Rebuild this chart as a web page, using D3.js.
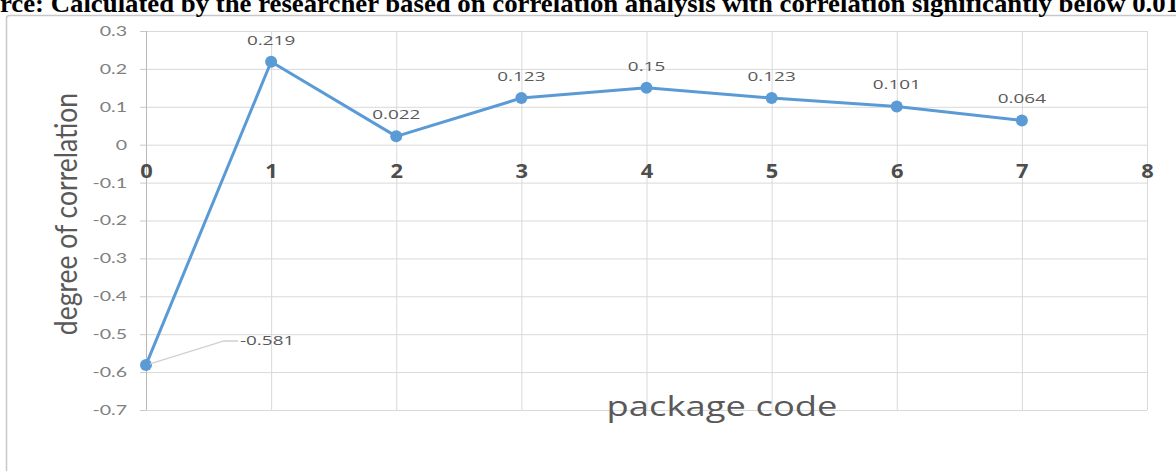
<!DOCTYPE html>
<html>
<head>
<meta charset="utf-8">
<script src="https://cdn.jsdelivr.net/npm/d3@7"></script>
<style>
  body { margin: 0; background: #fff; }
  svg { display: block; }
</style>
</head>
<body>
<div id="graph"></div>
<script>
const w = 1176;
const h = 471;

// data
const packageCodes = [0, 1, 2, 3, 4, 5, 6, 7];
const corrValues = [-0.581, 0.219, 0.022, 0.123, 0.15, 0.123, 0.101, 0.064];
const xTicks = [0, 1, 2, 3, 4, 5, 6, 7, 8];
const yTicks = [0.3, 0.2, 0.1, 0, -0.1, -0.2, -0.3, -0.4, -0.5, -0.6, -0.7];
const titleText = 'Source: Calculated by the researcher based on correlation analysis with correlation significantly below 0.01';

const lineColor = '#5b9bd5';
const gridColor = '#d9d9d9';
const stretch = 1.4; // the screenshot is squashed wider than the original chart

const svg = d3.select('#graph')
  .append('svg')
  .attr('width', w)
  .attr('height', h);

// chart frame (runs off the right / bottom edge like the screenshot)
svg.append('rect')
  .attr('x', 6.5)
  .attr('y', 15.5)
  .attr('width', w + 20)
  .attr('height', h + 20)
  .attr('rx', 3)
  .attr('fill', '#fff')
  .attr('stroke', '#c8c8c8')
  .attr('stroke-width', 1.5);

// caption, cut off at the top and left
const title = svg.append('text')
  .text(titleText)
  .style('font-family', '"Liberation Serif", serif')
  .style('font-weight', 'bold')
  .style('font-size', '26px')
  .style('fill', '#000');
const fullLen = title.node().getComputedTextLength();
const pre = svg.append('text').text('Sou')
  .style('font-family', '"Liberation Serif", serif')
  .style('font-weight', 'bold')
  .style('font-size', '26px');
const preLen = pre.node().getComputedTextLength();
pre.remove();
const tsx = 1180 / (fullLen - preLen);
title.attr('transform', 'translate(' + (-preLen * tsx) + ',12) scale(' + tsx + ',1)');

// scales
const xScale = d3.scaleLinear().domain([0, 8]).range([146, 1147]);
const yScale = d3.scaleLinear().domain([-0.7, 0.3]).range([410, 31]);

// horizontal gridlines
svg.append('g')
  .selectAll('line')
  .data(yTicks)
  .enter()
  .append('line')
  .attr('x1', xScale(0))
  .attr('x2', xScale(8))
  .attr('y1', d => yScale(d) + 0.5)
  .attr('y2', d => yScale(d) + 0.5)
  .attr('stroke', gridColor)
  .attr('stroke-width', 1);

// vertical gridlines
svg.append('g')
  .selectAll('line')
  .data(xTicks)
  .enter()
  .append('line')
  .attr('x1', d => xScale(d) + 0.5)
  .attr('x2', d => xScale(d) + 0.5)
  .attr('y1', yScale(0.3))
  .attr('y2', yScale(-0.7))
  .attr('stroke', d => d === 0 ? '#b8b8b8' : gridColor)
  .attr('stroke-width', 1);

// y axis (ticks + labels)
const yAxis = d3.axisLeft(yScale)
  .tickValues(yTicks)
  .tickSize(6)
  .tickPadding(0)
  .tickFormat(d => d === 0 ? '0' : d.toFixed(1));

const yAxisG = svg.append('g')
  .attr('transform', 'translate(' + xScale(0) + ',0)')
  .call(yAxis);
yAxisG.select('.domain').remove();
yAxisG.selectAll('line').attr('stroke', '#c8c8c8');
yAxisG.selectAll('text')
  .attr('x', -19 / stretch)
  .attr('transform', 'scale(' + stretch + ',1)')
  .style('font-family', 'Lato, sans-serif')
  .style('font-size', '14px')
  .style('fill', '#808080');

// x axis labels sit under the zero line
const xAxis = d3.axisBottom(xScale)
  .tickValues(xTicks)
  .tickSize(0)
  .tickPadding(20)
  .tickFormat(d3.format('d'));

const xAxisG = svg.append('g')
  .attr('transform', 'translate(0,' + yScale(0) + ')')
  .call(xAxis);
xAxisG.select('.domain').remove();
xAxisG.selectAll('text')
  .attr('transform', 'scale(1.15,1)')
  .style('font-family', '"Open Sans", sans-serif')
  .style('font-weight', 'bold')
  .style('font-size', '19px')
  .style('fill', '#4d4d4d');

// axis titles
svg.append('text')
  .attr('transform', 'translate(77,' + 214 + ') rotate(-90) scale(1,1.15)')
  .attr('text-anchor', 'middle')
  .text('degree of correlation')
  .style('font-family', 'Lato, sans-serif')
  .style('font-size', '26.5px')
  .style('fill', '#595959');

svg.append('text')
  .attr('transform', 'translate(722,416) scale(1.3,1)')
  .attr('text-anchor', 'middle')
  .text('package code')
  .style('font-family', '"Open Sans", sans-serif')
  .style('font-size', '28px')
  .style('fill', '#595959');

// series line
const line = d3.line()
  .x((d, i) => xScale(packageCodes[i]))
  .y(d => yScale(d));

svg.append('path')
  .datum(corrValues)
  .attr('d', line)
  .attr('fill', 'none')
  .attr('stroke', lineColor)
  .attr('stroke-width', 3)
  .attr('stroke-linejoin', 'round');

svg.selectAll('circle.dot')
  .data(corrValues)
  .enter()
  .append('circle')
  .attr('class', 'dot')
  .attr('cx', (d, i) => xScale(packageCodes[i]))
  .attr('cy', d => yScale(d))
  .attr('r', 6)
  .attr('fill', lineColor);

// data labels
const labelStyle = sel => sel
  .style('font-family', '"Open Sans", sans-serif')
  .style('font-size', '13.5px')
  .style('fill', '#595959');

svg.selectAll('text.dlabel')
  .data(corrValues.map((v, i) => ({ x: packageCodes[i], v: v })).filter(d => d.v >= 0))
  .enter()
  .append('text')
  .attr('class', 'dlabel')
  .attr('transform', d => 'translate(' + xScale(d.x) + ',' + (yScale(d.v) - 17) + ') scale(' + stretch + ',1)')
  .attr('text-anchor', 'middle')
  .text(d => String(d.v))
  .call(labelStyle);

// negative point gets a leader line to its label
const negIdx = corrValues.findIndex(d => d < 0);
const px = xScale(packageCodes[negIdx]);
const py = yScale(corrValues[negIdx]);
svg.append('polyline')
  .attr('points', [[px + 4, py - 1], [px + 78, py - 24], [px + 92, py - 24]].map(p => p.join(',')).join(' '))
  .attr('fill', 'none')
  .attr('stroke', '#d0d0d0')
  .attr('stroke-width', 1.5);

svg.append('text')
  .attr('transform', 'translate(' + (px + 94) + ',' + (py - 20) + ') scale(' + stretch + ',1)')
  .text(corrValues[negIdx].toString())
  .call(labelStyle);
</script>
</body>
</html>
